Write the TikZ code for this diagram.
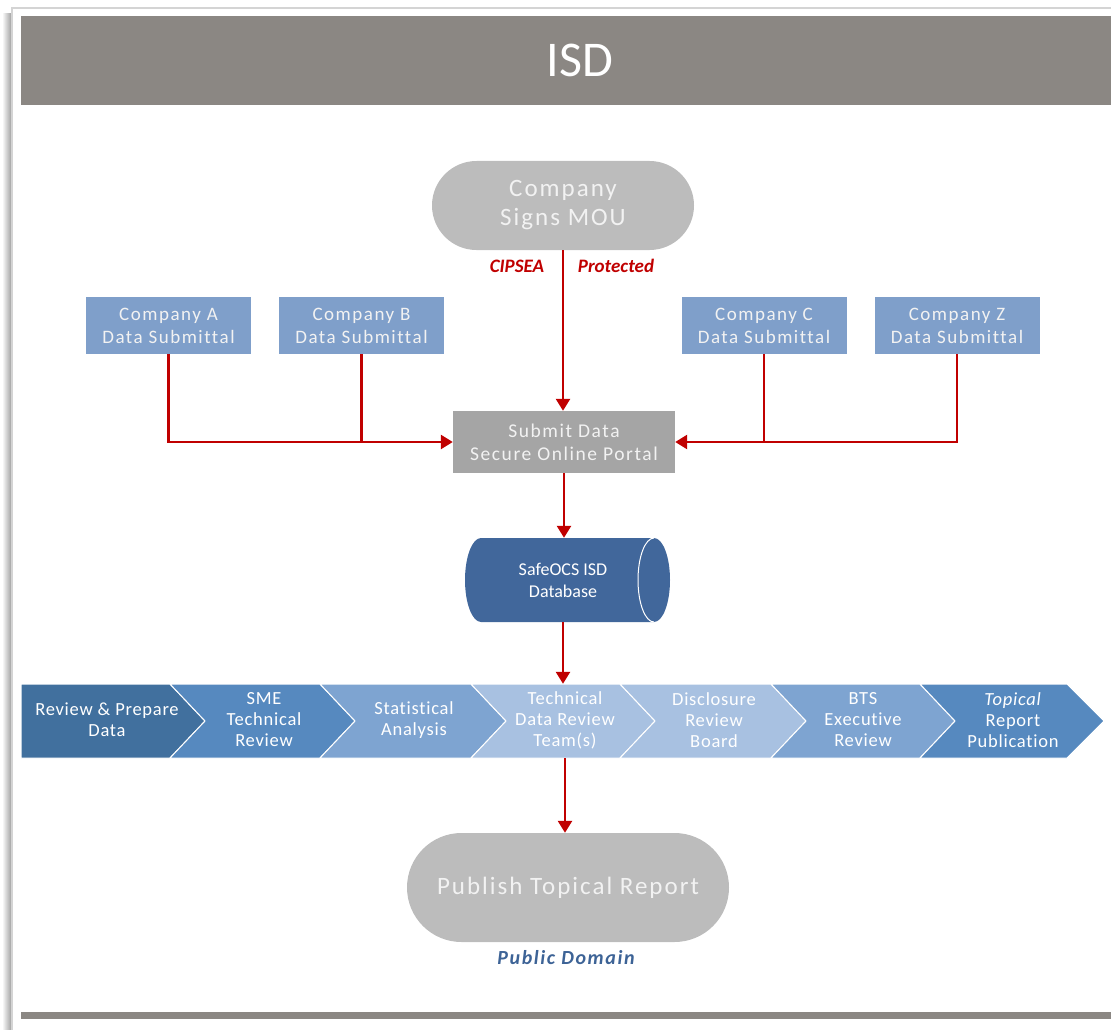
\documentclass[tikz,border=0pt]{standalone}
\usepackage{fontspec}
\setmainfont{Carlito}
\newfontfamily\spfont[LetterSpace=8,RawFeature=-liga]{Carlito}
\newfontfamily\chfont[LetterSpace=4,RawFeature=-liga]{Carlito}
\usetikzlibrary{arrows.meta,shapes.misc}
\definecolor{hdr}{HTML}{8B8783}
\definecolor{frameline}{HTML}{D4D4D4}
\definecolor{pillgray}{HTML}{BCBCBC}
\definecolor{subgray}{HTML}{A5A5A5}
\definecolor{compblue}{HTML}{7F9FCA}
\definecolor{dbblue}{HTML}{41679B}
\definecolor{cA}{HTML}{41709E}
\definecolor{cB}{HTML}{5689BF}
\definecolor{cC}{HTML}{7EA4D1}
\definecolor{cD}{HTML}{A8C1E1}
\definecolor{arrred}{HTML}{C00000}
\definecolor{pubblue}{HTML}{3D6396}
\definecolor{softw}{HTML}{F2F2F2}
\begin{document}
\begin{tikzpicture}[x=1pt,y=-1pt,
  pill/.style={rounded rectangle, fill=pillgray, text=softw, inner sep=0pt, align=center},
  compbox/.style={rectangle, fill=compblue, text=softw, minimum width=165pt, minimum height=57pt, inner sep=0pt, align=center, font=\spfont\fontsize{19}{23}\selectfont},
  chtext/.style={text=white, align=center, inner sep=0pt, font=\chfont\fontsize{18.5}{21}\selectfont},
  redline/.style={draw=arrred, line width=2.6pt},
  redarrow/.style={redline, -{Triangle[width=14pt,length=12pt]}},
  redlabel/.style={text=arrred, inner sep=0pt, font=\fontsize{19}{20}\selectfont\bfseries\itshape}
]
\useasboundingbox (0,0) rectangle (1111,1030);
% frame and shadow
\shade[left color=white, right color=black!40] (2,14) rectangle (12,1030);
\draw[frameline, line width=1.5pt] (12,1031) -- (12,8) -- (1112,8);
% header
\fill[hdr] (21,16) rectangle (1111,105);
\node (title) at (580,60) [text=white, font=\fontsize{50}{56}\selectfont] {ISD};
% bottom bar
\fill[hdr] (21,1012) rectangle (1111,1019);

% MOU
\node (mou) at (563,205.5) [pill, minimum width=262pt, minimum height=89pt, font=\spfont\fontsize{25}{29}\selectfont] {Company\\Signs MOU};
\node (cipsea) at (517,266) [redlabel] {CIPSEA};
\node (prot) at (616,266) [redlabel] {Protected};

% companies
\node (A) at (168.5,325.5) [compbox] {Company A\\Data Submittal};
\node (B) at (361.5,325.5) [compbox] {Company B\\Data Submittal};
\node (C) at (764,325.5) [compbox] {Company C\\Data Submittal};
\node (Z) at (957,325.5) [compbox] {Company Z\\Data Submittal};

% submit
\node (sub) at (564,442) [rectangle, fill=subgray, text=softw, minimum width=222pt, minimum height=62pt, inner sep=0pt, align=center, font=\spfont\fontsize{19.5}{23}\selectfont] {Submit Data\\Secure Online Portal};

% database
\fill[dbblue] (481,538) -- (654,538) arc[start angle=-90, end angle=90, x radius=16, y radius=42] -- (481,622) arc[start angle=90, end angle=270, x radius=16, y radius=42] -- cycle;
\draw[white, line width=1pt] (654,538) arc[start angle=270, end angle=90, x radius=16, y radius=42];
\node (db) at (567.5,580) [rectangle, minimum width=205pt, minimum height=84pt, inner sep=0pt] {};
\node (dbtext) at (563,580) [text=white, align=center, inner sep=0pt, font=\fontsize{18}{22}\selectfont] {SafeOCS ISD\\Database};

% chevron strip
\fill[cA, draw=white, line width=1pt] (21,684) -- (170,684) -- (205,721) -- (170,758) -- (21,758) -- cycle;
\fill[cB, draw=white, line width=1pt] (170,684) -- (320,684) -- (355,721) -- (320,758) -- (170,758) -- (205,721) -- cycle;
\fill[cC, draw=white, line width=1pt] (320,684) -- (471,684) -- (506,721) -- (471,758) -- (320,758) -- (355,721) -- cycle;
\fill[cD, draw=white, line width=1pt] (471,684) -- (620,684) -- (655,721) -- (620,758) -- (471,758) -- (506,721) -- cycle;
\fill[cD, draw=white, line width=1pt] (620,684) -- (771,684) -- (806,721) -- (771,758) -- (620,758) -- (655,721) -- cycle;
\fill[cC, draw=white, line width=1pt] (771,684) -- (920,684) -- (955,721) -- (920,758) -- (771,758) -- (806,721) -- cycle;
\fill[cB, draw=white, line width=1pt] (920,684) -- (1067,684) -- (1104,721) -- (1067,758) -- (920,758) -- (955,721) -- cycle;
\node (strip) at (562.5,721) [rectangle, minimum width=1083pt, minimum height=74pt, inner sep=0pt] {};
\node (s1) at (107,720) [chtext] {Review \& Prepare\\Data};
\node (s2) at (264,720) [chtext] {SME\\Technical\\Review};
\node (s3) at (414,720) [chtext] {Statistical\\Analysis};
\node (s4) at (565,720) [chtext] {Technical\\Data Review\\Team(s)};
\node (s5) at (714,720) [chtext] {Disclosure\\Review\\Board};
\node (s6) at (863,720) [chtext] {BTS\\Executive\\Review};
\node (s7) at (1013,720) [chtext] {\textit{Topical}\\Report\\Publication};

% publish
\node (pub) at (568,887.5) [pill, minimum width=322pt, minimum height=109pt, font=\spfont\fontsize{25}{29}\selectfont] {Publish Topical Report};
\node (pd) at (566,958) [text=pubblue, inner sep=0pt, font=\spfont\fontsize{20}{22}\selectfont\bfseries\itshape] {Public Domain};

% connectors
\draw[redarrow] (mou.south) -- (mou.south |- sub.north);
\draw[redarrow] (A.south) |- (sub.west);
\draw[redline] (B.south) -- (B.south |- sub.west);
\draw[redarrow] (Z.south) |- (sub.east);
\draw[redline] (C.south) -- (C.south |- sub.east);
\draw[redarrow] (sub.south) -- (sub.south |- db.north);
\draw[redarrow] (dbtext |- db.south) -- (dbtext |- strip.north);
\draw[redarrow] (s4 |- strip.south) -- (s4 |- pub.north);
\end{tikzpicture}
\end{document}
